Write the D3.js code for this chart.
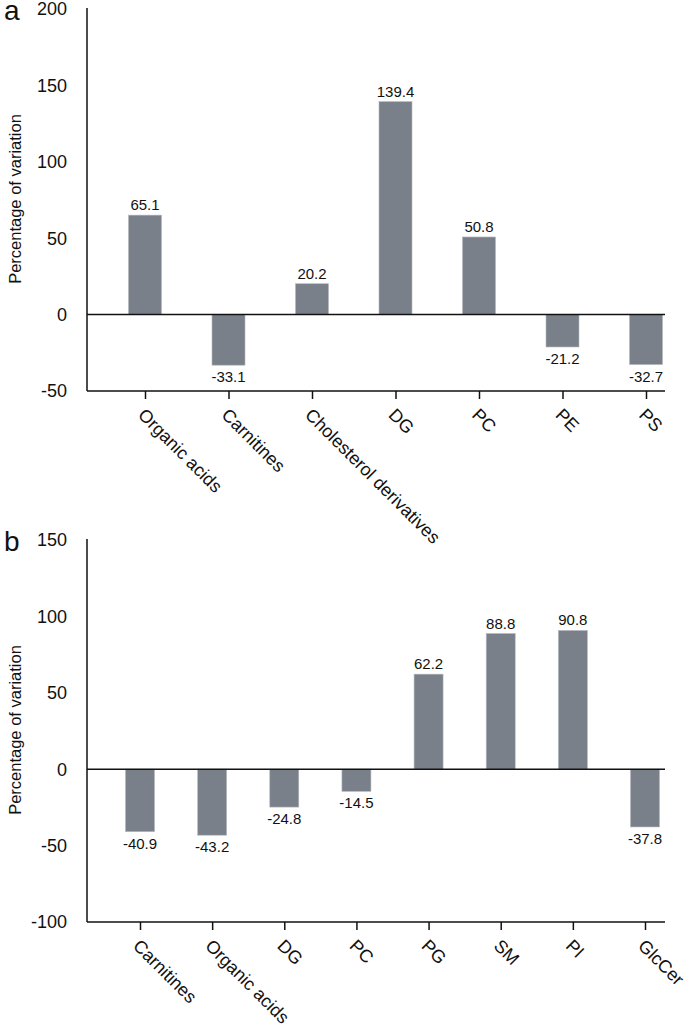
<!DOCTYPE html>
<html>
<head>
<meta charset="utf-8">
<script src="https://cdn.jsdelivr.net/npm/d3@7"></script>
<style>
  body { margin: 0; background: #fff; }
  svg { font-family: "Liberation Sans", Arial, sans-serif; }
</style>
</head>
<body>
<svg id="chart"></svg>
<script>
const catsA = ["Organic acids", "Carnitines", "Cholesterol derivatives", "DG", "PC", "PE", "PS"];
const valsA = [65.1, -33.1, 20.2, 139.4, 50.8, -21.2, -32.7];
const ticksA = [200, 150, 100, 50, 0, -50];

const catsB = ["Carnitines", "Organic acids", "DG", "PC", "PG", "SM", "PI", "GlcCer"];
const valsB = [-40.9, -43.2, -24.8, -14.5, 62.2, 88.8, 90.8, -37.8];
const ticksB = [150, 100, 50, 0, -50, -100];

const svg = d3.select("#chart")
  .attr("width", 685)
  .attr("height", 1026);

const barColor = "#79808a";

function panel(opts) {
  const { letter, cats, vals, ticks, top, bottom, xFirst, xLast, barW } = opts;
  const axisX = 87, axisEnd = 665;

  const y = d3.scaleLinear()
    .domain([d3.min(ticks), d3.max(ticks)])
    .range([bottom, top]);

  const x = d3.scalePoint()
    .domain(cats)
    .range([xFirst, xLast]);

  const g = svg.append("g");
  const rows = cats.map((c, i) => ({ c, v: vals[i] }));

  // bars
  g.selectAll("rect.bar")
    .data(rows)
    .join("rect")
    .attr("class", "bar")
    .attr("x", d => x(d.c) - barW / 2)
    .attr("y", d => y(Math.max(0, d.v)))
    .attr("width", barW)
    .attr("height", d => Math.abs(y(d.v) - y(0)))
    .attr("fill", barColor)
    .attr("stroke", "#b4b9be")
    .attr("stroke-width", 0.6);

  // value labels
  g.selectAll("text.val")
    .data(rows)
    .join("text")
    .attr("class", "val")
    .attr("x", d => x(d.c))
    .attr("y", d => d.v >= 0 ? y(d.v) - 5 : y(d.v) + 17)
    .attr("text-anchor", "middle")
    .style("font-size", "15px")
    .attr("fill", "#111")
    .text(d => d.v.toFixed(1));

  // zero line
  g.append("line")
    .attr("x1", axisX).attr("x2", axisEnd)
    .attr("y1", y(0)).attr("y2", y(0))
    .attr("stroke", "#111").attr("stroke-width", 1.5);

  // y axis line (no ticks)
  g.append("line")
    .attr("x1", axisX).attr("x2", axisX)
    .attr("y1", top - 1).attr("y2", bottom)
    .attr("stroke", "#111").attr("stroke-width", 1.5);

  // y tick labels
  g.selectAll("text.yt")
    .data(ticks)
    .join("text")
    .attr("class", "yt")
    .attr("x", 67)
    .attr("y", d => y(d))
    .attr("dy", "0.36em")
    .attr("text-anchor", "end")
    .style("font-size", "18px")
    .attr("fill", "#111")
    .text(d => d);

  // x axis
  const xg = g.append("g")
    .attr("transform", `translate(0,${bottom})`)
    .call(d3.axisBottom(x).tickSize(8).tickSizeOuter(0).tickFormat(""));
  xg.select(".domain").remove();
  xg.selectAll(".tick line").attr("stroke", "#111").attr("stroke-width", 1.5);
  g.append("line")
    .attr("x1", axisX).attr("x2", axisEnd)
    .attr("y1", bottom).attr("y2", bottom)
    .attr("stroke", "#111").attr("stroke-width", 1.5);

  g.selectAll("text.xl")
    .data(cats)
    .join("text")
    .attr("class", "xl")
    .attr("transform", d => `translate(${x(d) - 8},${bottom + 25}) rotate(45)`)
    .style("font-size", "18px")
    .attr("fill", "#111")
    .text(d => d);

  // axis title
  const cy = (top + bottom) / 2 - 1;
  g.append("text")
    .attr("transform", `translate(21,${cy}) rotate(-90)`)
    .attr("text-anchor", "middle")
    .style("font-size", "16.5px")
    .attr("fill", "#111")
    .text("Percentage of variation");

  // panel letter
  g.append("text")
    .attr("x", 4)
    .attr("y", top + 11)
    .style("font-size", "28px")
    .attr("fill", "#111")
    .text(letter);
}

panel({ letter: "a", cats: catsA, vals: valsA, ticks: ticksA,
  top: 9, bottom: 391, xFirst: 145, xLast: 646, barW: 33 });

panel({ letter: "b", cats: catsB, vals: valsB, ticks: ticksB,
  top: 540, bottom: 922, xFirst: 140, xLast: 645, barW: 29 });
</script>
</body>
</html>
